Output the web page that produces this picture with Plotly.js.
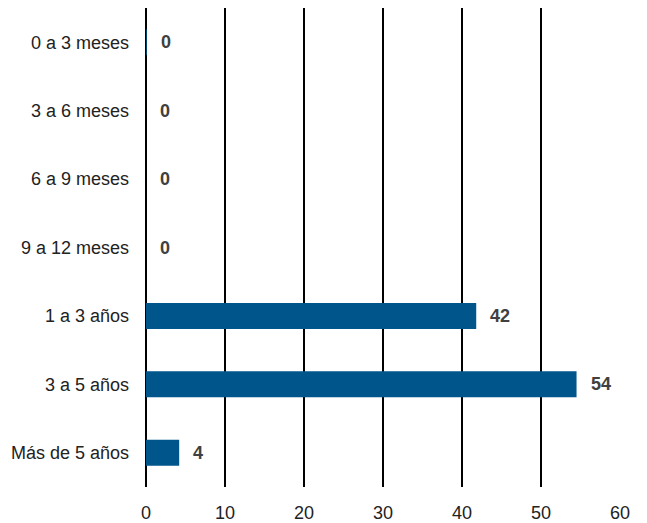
<!DOCTYPE html>
<html><head><meta charset="utf-8">
<script src="https://cdn.plot.ly/plotly-3.0.1.min.js"></script>
<style>html,body{margin:0;padding:0;background:#fff}#c{width:647px;height:523px}</style>
</head><body><div id="c"></div>
<script>
const categories = ["0 a 3 meses","3 a 6 meses","6 a 9 meses","9 a 12 meses","1 a 3 años","3 a 5 años","Más de 5 años"];
const values = [0.1, 0, 0, 0, 41.8, 54.5, 4.2];
const labels = ["0","0","0","0","42","54","4"];
const xTicks = [0,10,20,30,40,50,60];

const FONT = "Liberation Sans Narrow, Arial Narrow, Liberation Sans, Arial, sans-serif";

const trace = {
  type: "bar", orientation: "h",
  x: values, y: categories,
  marker: {color: "#00558A", line: {width: 0}},
  hoverinfo: "none"
};

const annotations = categories.map((c, i) => ({
  x: values[i], y: c, xref: "x", yref: "y",
  text: "<b>" + labels[i] + "</b>", showarrow: false,
  xanchor: "left", xshift: 12,
  font: {family: FONT, size: 18, color: "#404040"}
}));

const layout = {
  width: 647, height: 523,
  margin: {l: 146, r: 27, t: 8, b: 36},
  paper_bgcolor: "#fff", plot_bgcolor: "#fff",
  showlegend: false, bargap: 0.62,
  xaxis: {
    range: [0, 60], tickvals: xTicks, ticktext: xTicks.map(String),
    showgrid: true, gridcolor: "#000", gridwidth: 2,
    zeroline: true, zerolinecolor: "#000", zerolinewidth: 2,
    showline: false, ticks: "", ticklabelstandoff: 13,
    tickfont: {family: FONT, size: 18, color: "#222"}, fixedrange: true
  },
  yaxis: {
    categoryorder: "array", categoryarray: categories.slice().reverse(),
    autorange: false, range: [-0.5, 6.5],
    showgrid: false, zeroline: false, showline: false, ticks: "",
    ticklabelstandoff: 16,
    tickfont: {family: FONT, size: 18, color: "#222"}, fixedrange: true
  },
  annotations: annotations
};

Plotly.newPlot("c", [trace], layout, {staticPlot: true, displayModeBar: false});
</script></body></html>
